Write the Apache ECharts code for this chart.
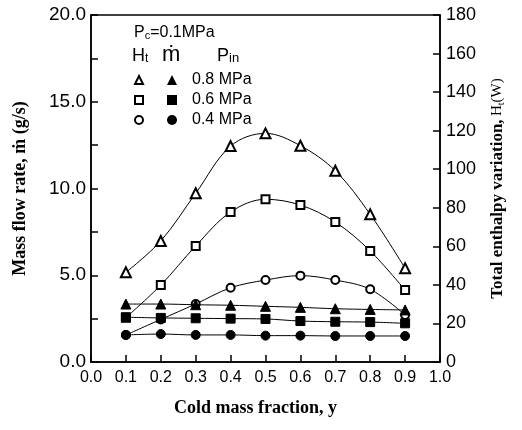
<!DOCTYPE html>
<html>
<head>
<meta charset="utf-8">
<script src="https://cdn.jsdelivr.net/npm/echarts@6/dist/echarts.min.js"></script>
<style>html,body{margin:0;padding:0;background:#fff}#c{width:522px;height:430px}</style>
</head>
<body>
<div id="c"></div>
<script>
// Cold mass fraction (x)
var coldFraction = [0.1, 0.2, 0.3, 0.4, 0.5, 0.6, 0.7, 0.8, 0.9];
// Total enthalpy variation Ht (W) — right axis, hollow symbols
var ht08 = [46.5, 62.8, 87.5, 112, 118.6, 112.2, 99.2, 76.6, 48.6];
var ht06 = [23, 39.9, 60.2, 77.8, 84.4, 81.4, 72.6, 57.6, 37.3];
var ht04 = [14, 22.1, 30.1, 38.5, 42.5, 44.8, 42.5, 37.7, 24.4];
// Mass flow rate m (g/s) — left axis, filled symbols
var m08 = [3.34, 3.34, 3.3, 3.27, 3.21, 3.15, 3.07, 3.03, 3.0];
var m06 = [2.58, 2.54, 2.52, 2.5, 2.48, 2.36, 2.32, 2.3, 2.23];
var m04 = [1.56, 1.61, 1.56, 1.56, 1.52, 1.52, 1.5, 1.5, 1.5];
// Tick labels
var xTicks = [0, 1, 0.1];
var leftTicks = [0, 20, 5];
var rightTicks = [0, 180, 20];
var pressures = ['0.8 MPa', '0.6 MPa', '0.4 MPa'];

function pairs(ys) { return coldFraction.map(function (x, i) { return [x, ys[i]]; }); }

var chart = echarts.init(document.getElementById('c'), null, { renderer: 'canvas' });
var sans = 'Liberation Sans, Arial, sans-serif';
var serif = 'Liberation Serif, Times New Roman, serif';

function ser(name, data, symbol, size, yIdx, z) {
  return {
    name: name, type: 'line', data: pairs(data), yAxisIndex: yIdx,
    symbol: symbol, symbolSize: size, smooth: 0.35, showAllSymbol: true,
    color: '#000', z: z,
    lineStyle: { color: '#000', width: 1 },
    itemStyle: { color: '#000', borderColor: '#000', borderWidth: 1 },
    emphasis: { disabled: true }, animation: false
  };
}

var option = {
  backgroundColor: '#fff',
  animation: false,
  grid: { left: 91, right: 82, top: 15, bottom: 68, show: true, borderColor: '#000', borderWidth: 1.5, backgroundColor: 'transparent' },
  xAxis: {
    type: 'value', min: xTicks[0], max: xTicks[1], interval: xTicks[2],
    name: 'Cold mass fraction, y', nameLocation: 'middle', nameGap: 37,
    nameTextStyle: { fontFamily: serif, fontWeight: 'bold', fontSize: 18, color: '#000', padding: [0, 20, 0, 0] },
    axisLine: { show: true, lineStyle: { color: '#000', width: 1.5 } },
    axisTick: { show: true, inside: true, length: 7, lineStyle: { color: '#000', width: 1.5 } },
    axisLabel: { color: '#000', fontFamily: sans, fontSize: 16, margin: 8, formatter: function (v) { return v.toFixed(1); } },
    splitLine: { show: false }
  },
  yAxis: [{
    type: 'value', min: leftTicks[0], max: leftTicks[1], interval: leftTicks[2], position: 'left',
    name: 'Mass flow rate, ṁ (g/s)', nameLocation: 'middle', nameGap: 62, nameRotate: 90,
    nameTextStyle: { fontFamily: serif, fontWeight: 'bold', fontSize: 18, color: '#000' },
    axisLine: { show: true, lineStyle: { color: '#000', width: 1.5 } },
    axisTick: { show: true, inside: true, length: 7, lineStyle: { color: '#000', width: 1.5 } },
    minorTick: { show: true, splitNumber: 2, length: 7, lineStyle: { color: '#000', width: 1.5 } },
    axisLabel: { color: '#000', fontFamily: sans, fontSize: 19, margin: 5, formatter: function (v) { return v.toFixed(1); } },
    splitLine: { show: false }
  }, {
    type: 'value', min: rightTicks[0], max: rightTicks[1], interval: rightTicks[2], position: 'right',
    name: '{b|Total enthalpy variation,} {n|H}{s|t}{n|(W)}', nameLocation: 'middle', nameGap: 49, nameRotate: 90,
    nameTextStyle: {
      color: '#000',
      rich: {
        b: { fontFamily: serif, fontWeight: 'bold', fontSize: 17, color: '#000' },
        n: { fontFamily: serif, fontSize: 15, color: '#000' },
        s: { fontFamily: serif, fontSize: 10, color: '#000', verticalAlign: 'bottom' }
      }
    },
    axisLine: { show: true, lineStyle: { color: '#000', width: 1.5 } },
    axisTick: { show: true, inside: true, length: 7, lineStyle: { color: '#000', width: 1.5 } },
    axisLabel: { color: '#000', fontFamily: sans, fontSize: 18, margin: 6 },
    splitLine: { show: false }
  }],
  legend: [{
    orient: 'vertical', left: 134, top: 70, itemGap: 0, itemWidth: 8, itemHeight: 8,
    selectedMode: false, padding: 0,
    data: [{ name: 'Ht 0.8', icon: 'emptyTriangle' }, { name: 'Ht 0.6', icon: 'emptyRect' }, { name: 'Ht 0.4', icon: 'emptyCircle' }],
    formatter: function () { return ' '; },
    textStyle: { fontSize: 15, lineHeight: 20, color: '#000' },
    itemStyle: { borderColor: '#000', borderWidth: 1 }
  }, {
    orient: 'vertical', left: 167, top: 70, itemGap: 0, itemWidth: 10, itemHeight: 10,
    selectedMode: false, padding: 0,
    data: [{ name: pressures[0], icon: 'triangle' }, { name: pressures[1], icon: 'rect' }, { name: pressures[2], icon: 'circle' }],
    textStyle: { fontSize: 16, lineHeight: 20, color: '#000', fontFamily: sans, padding: [0, 0, 0, 10] },
    itemStyle: { color: '#000', borderWidth: 0 }
  }],
  graphic: [{
    type: 'text', left: 134, top: 25,
    style: { text: '{a|P}{s|c}{a|=0.1MPa}', rich: { a: { fontFamily: sans, fontSize: 16, fill: '#000' }, s: { fontFamily: sans, fontSize: 11, fill: '#000', verticalAlign: 'bottom' } } }
  }, {
    type: 'text', left: 132, top: 47,
    style: { text: '{a|H}{s|t}', rich: { a: { fontFamily: sans, fontSize: 18, fill: '#000' }, s: { fontFamily: sans, fontSize: 12, fill: '#000', verticalAlign: 'bottom' } } }
  }, {
    type: 'text', left: 162, top: 44,
    style: { text: 'ṁ', fontFamily: sans, fontSize: 22, fill: '#000' }
  }, {
    type: 'text', left: 217, top: 47,
    style: { text: '{a|P}{s|in}', rich: { a: { fontFamily: sans, fontSize: 18, fill: '#000' }, s: { fontFamily: sans, fontSize: 13, fill: '#000', verticalAlign: 'bottom' } } }
  }],
  series: [
    ser('Ht 0.8', ht08, 'emptyTriangle', 10, 1, 2),
    ser('Ht 0.6', ht06, 'emptyRect', 8, 1, 2),
    ser('Ht 0.4', ht04, 'emptyCircle', 8, 1, 2),
    ser(pressures[0], m08, 'triangle', 10, 0, 3),
    ser(pressures[1], m06, 'rect', 9, 0, 3),
    ser(pressures[2], m04, 'circle', 9, 0, 3)
  ]
};
chart.setOption(option);
</script>
</body>
</html>
